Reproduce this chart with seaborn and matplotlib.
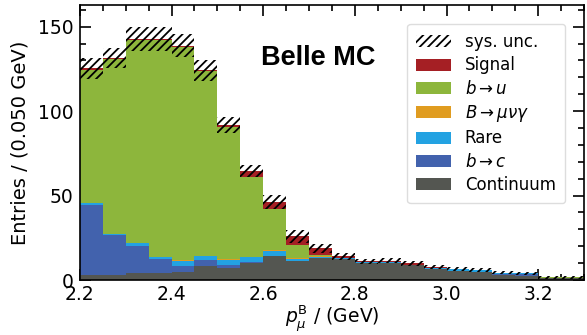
import numpy as np
import pandas as pd
import matplotlib
matplotlib.use("Agg")
import matplotlib.pyplot as plt
from matplotlib.patches import Patch
from matplotlib.ticker import MultipleLocator
import seaborn as sns

# Binning of the muon momentum in the B rest frame (GeV)
bin_edges = [round(2.20 + 0.05 * i, 2) for i in range(23)]

# Expected yields per bin for each component
continuum = [3.0, 3.0, 4.4, 4.0, 4.5, 8.5, 6.9, 9.9, 14.2, 11.0, 13.0,
             12.5, 10.2, 10.1, 8.8, 6.5, 5.5, 4.7, 3.1, 2.4, 1.0, 1.0]
b_to_c = [41.5, 23.7, 16.0, 8.5, 4.0, 3.3, 2.0, 0.8, 0.2, 0.2, 0.1,
          0.0, 0.0, 0.0, 0.0, 0.0, 0.0, 0.1, 0.5, 1.2, 0.0, 0.0]
rare = [1.0, 0.6, 1.4, 0.9, 2.8, 2.3, 3.0, 2.7, 3.0, 1.5, 0.6,
        0.3, 0.2, 0.3, 0.3, 0.9, 1.2, 1.1, 0.8, 0.3, 0.0, 0.0]
b_munugamma = [0.3, 0.2, 0.3, 0.5, 0.5, 0.3, 0.3, 0.3, 0.3, 0.3, 0.4,
               0.1, 0.0, 0.0, 0.0, 0.0, 0.0, 0.0, 0.0, 0.0, 0.0, 0.0]
b_to_u = [78.7, 103.2, 120.0, 128.2, 126.4, 109.1, 78.6, 47.6, 24.4, 7.8, 0.5,
          0.1, 0.0, 0.0, 0.0, 0.0, 0.0, 0.0, 0.0, 0.0, 0.6, 0.6]
signal = [0.8, 0.8, 0.6, 0.6, 0.6, 0.6, 0.9, 3.5, 4.2, 5.1, 4.2,
          1.0, 0.7, 1.0, 0.8, 0.1, 0.1, 0.0, 0.0, 0.0, 0.0, 0.0]
# Systematic uncertainty on the total expectation
sys_unc = [6.0, 6.0, 7.0, 7.0, 6.8, 6.0, 4.7, 3.5, 4.0, 3.8, 2.5,
           2.0, 1.5, 1.5, 1.5, 1.2, 1.2, 1.2, 1.0, 1.0, 1.0, 1.0]

labels = ["Signal", r"$b \rightarrow u$", r"$B \rightarrow \mu\nu\gamma$",
          "Rare", r"$b \rightarrow c$", "Continuum"]
yields = [signal, b_to_u, b_munugamma, rare, b_to_c, continuum]
colors = ["#a51f24", "#8db63c", "#e09c20", "#23a2e2", "#4262ad", "#545651"]

edges = np.array(bin_edges)
centers = 0.5 * (edges[:-1] + edges[1:])
df = pd.concat(
    [pd.DataFrame({"p": centers, "w": vals, "comp": lab})
     for lab, vals in zip(labels, yields)],
    ignore_index=True,
)

sns.set_style("ticks")
plt.rcParams.update({
    "font.family": ["DejaVu Sans"],
    "hatch.linewidth": 1.3,
    "mathtext.fontset": "dejavusans",
    "text.color": "black",
    "axes.labelcolor": "black",
    "axes.edgecolor": "black",
    "xtick.color": "black",
    "ytick.color": "black",
})

fig = plt.figure(figsize=(5.87, 3.35), dpi=100)
ax = fig.add_axes([0.136, 0.164, 0.859, 0.822])

sns.histplot(
    data=df, x="p", weights="w", hue="comp", hue_order=labels,
    palette=dict(zip(labels, colors)), bins=bin_edges,
    multiple="stack", element="bars", linewidth=0, alpha=1,
    legend=False, ax=ax,
)

total = np.sum(np.array(yields), axis=0)
err = np.array(sys_unc)
ax.bar(edges[:-1], 2 * err, bottom=total - err, width=np.diff(edges),
       align="edge", fill=False, hatch="////", edgecolor="black", linewidth=0)

ax.set_xlim(2.2, 3.3)
ax.set_ylim(0, 163)
ax.xaxis.set_major_locator(MultipleLocator(0.2))
ax.xaxis.set_minor_locator(MultipleLocator(0.05))
ax.yaxis.set_major_locator(MultipleLocator(50))
ax.yaxis.set_minor_locator(MultipleLocator(10))
ax.tick_params(which="both", direction="in", top=True, right=True,
               labelsize=13.5, width=1.2, pad=4.5)
ax.tick_params(axis="x", which="both", pad=3.5)
ax.tick_params(which="major", length=8)
ax.tick_params(which="minor", length=4.5)
for sp in ax.spines.values():
    sp.set_linewidth(1.2)

ax.set_xlabel(r"$p_{\mu}^{\mathrm{B}}$ / (GeV)", fontsize=13.5, labelpad=0)
ax.set_ylabel("Entries / (0.050 GeV)", fontsize=14, labelpad=6)

ax.text(0.473, 0.806, "Belle MC", transform=ax.transAxes, ha="center",
        va="center", fontsize=19.5, fontweight="bold",
        family=["Liberation Sans", "DejaVu Sans"])

handles = [Patch(facecolor="white", edgecolor="black", hatch="////",
                 linewidth=0, label="sys. unc.")]
handles += [Patch(facecolor=c, edgecolor="none", label=l)
            for l, c in zip(labels, colors)]
ax.legend(handles=handles, loc="upper right", bbox_to_anchor=(0.962, 0.930),
          borderaxespad=0, fontsize=12, handlelength=2.1, handleheight=0.72,
          labelspacing=0.32, handletextpad=0.8, borderpad=0.55, frameon=True,
          fancybox=True, edgecolor="#dddddd", framealpha=1)

fig.savefig("out.png", dpi=100)
